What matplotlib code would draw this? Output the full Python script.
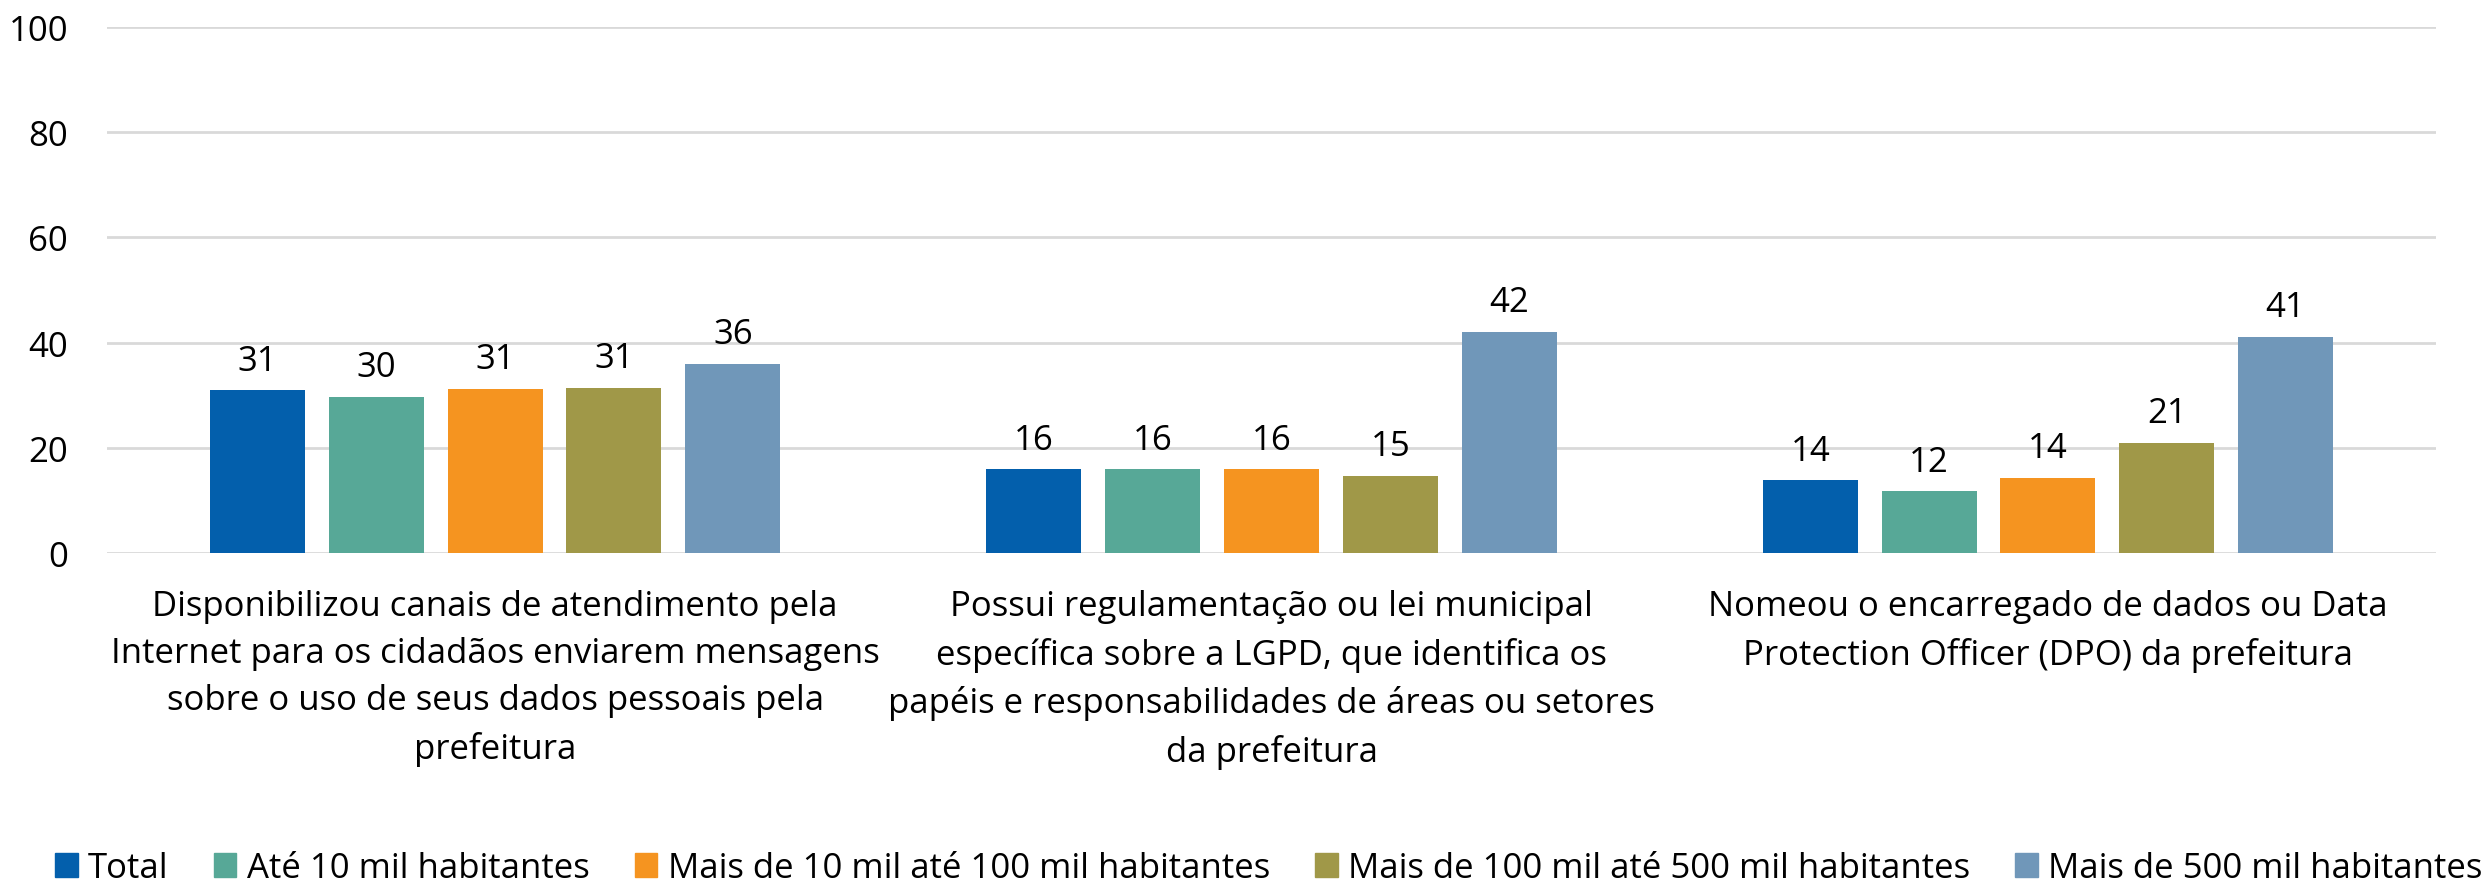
import numpy as np
import matplotlib.pyplot as plt
from matplotlib.patches import Patch

plt.rcParams['font.family'] = ['Open Sans', 'DejaVu Sans']

# categories and series
categories = [
    "Disponibilizou canais de atendimento pela\nInternet para os cidadãos enviarem mensagens\nsobre o uso de seus dados pessoais pela\nprefeitura",
    "Possui regulamentação ou lei municipal\nespecífica sobre a LGPD, que identifica os\npapéis e responsabilidades de áreas ou setores\nda prefeitura",
    "Nomeou o encarregado de dados ou Data\nProtection Officer (DPO) da prefeitura",
]
series_names = ["Total", "Até 10 mil habitantes", "Mais de 10 mil até 100 mil habitantes",
                "Mais de 100 mil até 500 mil habitantes", "Mais de 500 mil habitantes"]
total = [30.9, 15.9, 13.8]
ate10 = [29.6, 15.9, 11.7]
mais10 = [31.2, 15.9, 14.2]
mais100 = [31.4, 14.6, 21.0]
mais500 = [36.0, 42.0, 41.1]
colors = ["#035FAC", "#57A897", "#F59420", "#A09848", "#7097B9"]

values = [total, ate10, mais10, mais100, mais500]
fs = 25

fig = plt.figure(figsize=(24.83, 8.87), dpi=100)
ax = fig.add_axes([0.0431, 0.3754, 0.938, 0.593])

x = np.arange(len(categories))
width = 0.1224
step = 0.153
for i, (vals, name, c) in enumerate(zip(values, series_names, colors)):
    pos = x + (i - 2) * step
    bars = ax.bar(pos, vals, width, color=c, label=name, zorder=3)
    for b, v in zip(bars, vals):
        ax.annotate(f"{v:.0f}", (b.get_x() + b.get_width() / 2, v),
                    xytext=(0, 15), textcoords="offset points",
                    ha="center", va="baseline", fontsize=fs)

ax.set_xlim(-0.5, 2.5)
ax.set_ylim(0, 100)
ax.set_yticks(range(0, 101, 20))
ax.yaxis.grid(True, color="#D9D9D9", linewidth=2, zorder=0)
for s in ax.spines.values():
    s.set_visible(False)
ax.tick_params(axis="both", length=0, labelsize=fs)
ax.tick_params(axis="y", pad=28)
ax.set_xticks(x)
ax.set_xticklabels(categories, fontsize=fs, linespacing=1.5)
ax.tick_params(axis="x", pad=26)

handles = [Patch(color=c, label=n) for c, n in zip(colors, series_names)]
fig.legend(handles=handles, loc="center", bbox_to_anchor=(0.511, 0.02), ncol=5,
           frameon=False, fontsize=fs, handlelength=0.65, handleheight=0.65,
           handletextpad=0.3, columnspacing=1.3, borderpad=0, borderaxespad=0)

fig.savefig("out.png", dpi=100)
